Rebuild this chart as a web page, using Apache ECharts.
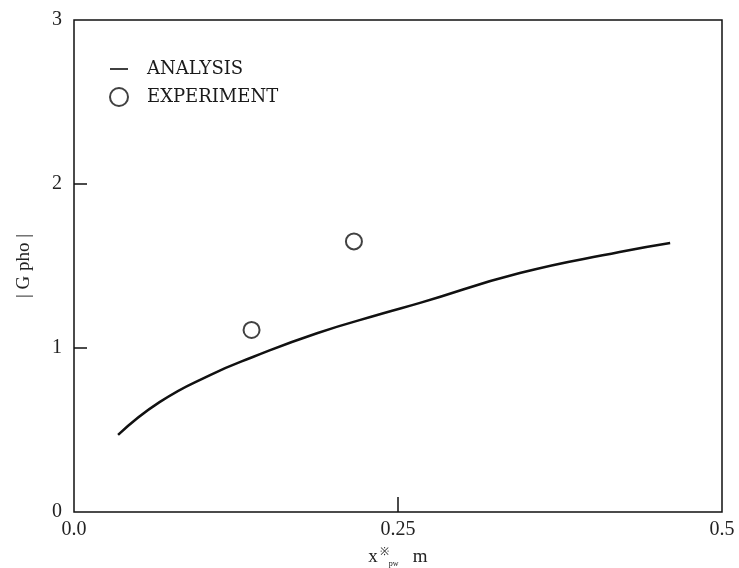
<!DOCTYPE html>
<html>
<head>
<meta charset="utf-8">
<script src="https://cdn.jsdelivr.net/npm/echarts@6/dist/echarts.min.js"></script>
<style>
  html, body { margin: 0; padding: 0; background: #fff; }
  #chart { width: 739px; height: 568px; }
</style>
</head>
<body>
<div id="chart"></div>
<script>
// analysis curve
var analysisX = [0.034, 0.066, 0.105, 0.138, 0.1875, 0.238, 0.267, 0.344, 0.421, 0.46];
var analysisY = [0.47, 0.67, 0.835, 0.945, 1.09, 1.21, 1.275, 1.457, 1.585, 1.64];
// experiment points
var expX = [0.137, 0.216];
var expY = [1.11, 1.65];
var xTicks = ['0.0', '0.25', '0.5'];
var yTicks = ['0', '1', '2', '3'];

var font = 'Liberation Serif';
var chart = echarts.init(document.getElementById('chart'));

function pairs(xs, ys) {
  var out = [];
  for (var i = 0; i < xs.length; i++) out.push([xs[i], ys[i]]);
  return out;
}

var option = {
  animation: false,
  backgroundColor: '#fff',
  textStyle: { fontFamily: font, color: '#111' },
  grid: {
    left: 74, right: 17, top: 20, bottom: 56,
    outerBoundsMode: 'none',
    show: true, borderColor: '#111', borderWidth: 1.5
  },
  legend: {
    orient: 'vertical',
    left: 104, top: 55,
    itemWidth: 18, itemHeight: 18, itemGap: 9,
    textStyle: { fontFamily: 'DejaVu Serif', fontSize: 18, color: '#1a1a1a', padding: [0, 0, 0, 14] },
    data: [
      { name: 'ANALYSIS', icon: 'path://M0,0 L0,0 M0,8.2 L18,8.2 L18,9.8 L0,9.8 Z M18,18 L18,18',
        itemStyle: { color: '#111' } },
      { name: 'EXPERIMENT', icon: 'emptyCircle' }
    ]
  },
  xAxis: {
    type: 'value', min: 0, max: 0.5, interval: 0.25,
    name: '{x|x}{sup|※}{sub|pw}{m|   m}',
    nameLocation: 'middle', nameGap: 35,
    nameTextStyle: {
      rich: {
        x: { fontFamily: font, fontSize: 19, color: '#222' },
        sup: { fontFamily: font, fontSize: 11, color: '#222', verticalAlign: 'top', padding: [0, 0, 10, 2] },
        sub: { fontFamily: font, fontSize: 8, color: '#222', verticalAlign: 'bottom', padding: [10, 0, 0, 0] },
        m: { fontFamily: font, fontSize: 19, color: '#222' }
      }
    },
    axisLine: { show: false },
    axisTick: {
      show: true, inside: true, length: 15,
      lineStyle: { color: '#111', width: 1.5 },
      customValues: [0.25]
    },
    axisLabel: {
      fontFamily: font, fontSize: 20, color: '#222', margin: 8,
      formatter: function (v) { return xTicks[Math.round(v / 0.25)]; }
    },
    splitLine: { show: false }
  },
  yAxis: {
    type: 'value', min: 0, max: 3, interval: 1,
    name: '| G pho |',
    nameLocation: 'middle', nameGap: 40, nameRotate: 90,
    nameTextStyle: { fontFamily: font, fontSize: 19, color: '#222' },
    axisLine: { show: false },
    axisTick: {
      show: true, inside: true, length: 13,
      lineStyle: { color: '#111', width: 1.5 },
      customValues: [1, 2]
    },
    axisLabel: {
      fontFamily: font, fontSize: 20, color: '#222', margin: 12,
      formatter: function (v) { return yTicks[v]; }
    },
    splitLine: { show: false }
  },
  series: [
    {
      name: 'ANALYSIS', type: 'line', smooth: true, symbol: 'none',
      lineStyle: { color: '#111', width: 2.5 },
      itemStyle: { color: '#111' },
      data: pairs(analysisX, analysisY)
    },
    {
      name: 'EXPERIMENT', type: 'scatter', symbol: 'emptyCircle', symbolSize: 16,
      itemStyle: { color: '#111', borderColor: '#111', borderWidth: 2.2 },
      data: pairs(expX, expY)
    }
  ]
};
chart.setOption(option);
</script>
</body>
</html>
